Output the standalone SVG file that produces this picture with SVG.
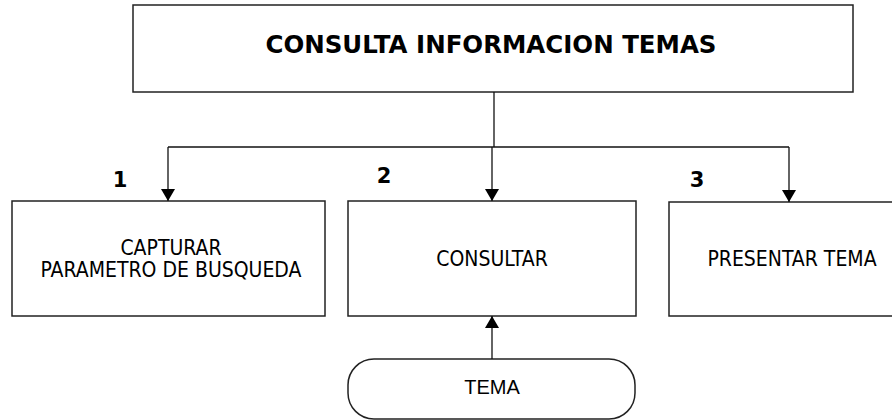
<svg xmlns="http://www.w3.org/2000/svg" width="892" height="420" viewBox="0 0 892 420">
<style>
.box{fill:#fff;stroke:#222;stroke-width:1.5}
.ln{fill:none;stroke:#111;stroke-width:1.3}
.t{font-family:"DejaVu Sans Condensed","DejaVu Sans",sans-serif;font-stretch:condensed;font-size:21px;fill:#000;text-anchor:middle}
.tb{font-family:"DejaVu Sans","Verdana",sans-serif;font-weight:bold;font-size:24px;fill:#000;text-anchor:middle}
.num{font-family:"DejaVu Sans",sans-serif;font-weight:bold;font-size:21px;fill:#000;text-anchor:middle}
.ta{font-family:"Liberation Sans",Arial,sans-serif;font-size:20px;fill:#000;text-anchor:middle}
</style>
<defs>
<marker id="ah" viewBox="0 0 12 14" refX="12" refY="7" markerWidth="12" markerHeight="14" markerUnits="userSpaceOnUse" orient="auto">
<path d="M0,0 L12,7 L0,14 Z" fill="#000"/>
</marker>
</defs>
<g id="top">
<rect class="box" x="133" y="5" width="720" height="87"/>
<text class="tb" x="491" y="53" textLength="451" lengthAdjust="spacingAndGlyphs">CONSULTA INFORMACION TEMAS</text>
</g>
<g id="n1">
<rect class="box" x="12" y="201" width="313" height="115"/>
<text class="t" x="171" y="255">CAPTURAR</text>
<text class="t" x="171" y="277">PARAMETRO DE BUSQUEDA</text>
<text class="num" x="120" y="187">1</text>
</g>
<g id="n2">
<rect class="box" x="348" y="201" width="288" height="115"/>
<text class="t" x="492" y="266">CONSULTAR</text>
<text class="num" x="384" y="183">2</text>
</g>
<g id="n3">
<rect class="box" x="669" y="202" width="250" height="114"/>
<text class="t" x="792" y="266">PRESENTAR TEMA</text>
<text class="num" x="697" y="187">3</text>
</g>
<g id="tema">
<rect class="box" x="348" y="359" width="287" height="60" rx="26" ry="26"/>
<text class="ta" x="492" y="394">TEMA</text>
</g>
<g id="connectors">
<path class="ln" d="M494,92 V147"/>
<path class="ln" d="M168,147 H789"/>
<path class="ln" d="M168,147 V201" marker-end="url(#ah)"/>
<path class="ln" d="M492,147 V201" marker-end="url(#ah)"/>
<path class="ln" d="M789,147 V202" marker-end="url(#ah)"/>
<path class="ln" d="M492,359 V316" marker-end="url(#ah)"/>
</g>
</svg>
